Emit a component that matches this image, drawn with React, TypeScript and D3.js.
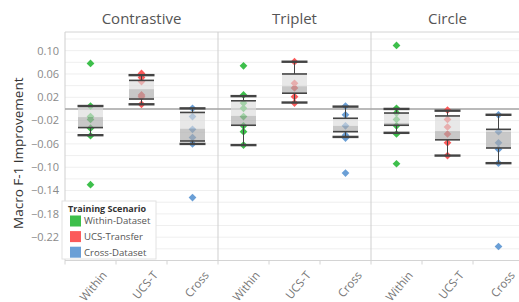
import React from 'react';
import * as d3 from 'd3';

// loss functions (facets) and training scenarios (columns inside each facet)
const losses = ['Contrastive', 'Triplet', 'Circle'];
const scenarios = ['Within', 'UCS-T', 'Cross'];
const legendLabels = ['Within-Dataset', 'UCS-Transfer', 'Cross-Dataset'];
const scenarioColors = ['#3dbf4b', '#fb5a5a', '#6a9fd6'];

// individual runs, [within, ucs-t, cross]
const contrastivePoints = [
  [0.078, 0.005, -0.013, -0.018, -0.033, -0.046, -0.130],
  [0.061, 0.054, 0.047, 0.024, 0.021, 0.008],
  [0.001, -0.013, -0.035, -0.049, -0.060, -0.152],
];
const tripletPoints = [
  [0.074, 0.024, 0.010, 0.001, -0.013, -0.029, -0.039, -0.062],
  [0.081, 0.044, 0.036, 0.021, 0.010],
  [0.005, -0.010, -0.029, -0.045, -0.050, -0.110],
];
const circlePoints = [
  [0.109, 0.001, -0.007, -0.018, -0.029, -0.043, -0.094],
  [-0.002, -0.018, -0.031, -0.043, -0.058, -0.080],
  [-0.010, -0.039, -0.058, -0.069, -0.093, -0.236],
];

// box stats: [lower whisker, q1, median, q3, upper whisker]
const contrastiveBoxes = [
  [-0.045, -0.032, -0.014, 0.005, 0.005],
  [0.008, 0.017, 0.034, 0.049, 0.058],
  [-0.060, -0.055, -0.034, -0.006, 0.001],
];
const tripletBoxes = [
  [-0.062, -0.028, -0.012, 0.014, 0.022],
  [0.011, 0.027, 0.039, 0.060, 0.081],
  [-0.048, -0.039, -0.029, -0.016, 0.004],
];
const circleBoxes = [
  [-0.041, -0.028, -0.024, -0.007, 0.0],
  [-0.080, -0.053, -0.038, -0.012, -0.003],
  [-0.093, -0.067, -0.039, -0.035, -0.010],
];

const yTicks = [0.1, 0.06, 0.02, -0.02, -0.06, -0.1, -0.14, -0.18, -0.22];

const allPoints = [contrastivePoints, tripletPoints, circlePoints];
const allBoxes = [contrastiveBoxes, tripletBoxes, circleBoxes];

const font = '"Open Sans", Lato, sans-serif';

export default function App() {
  const width = 519;
  const height = 302;
  const left = 65;
  const top = 32;
  const bottom = 260.5;
  const panelW = 153;

  const y = d3.scaleLinear().domain([-0.26, 0.132]).range([bottom, top]);
  const facet = d3.scaleBand<string>().domain(losses).range([left, left + panelW * 3]);
  const x = d3.scaleBand<string>().domain(scenarios).range([0, panelW]);

  const grid = d3.range(-0.26, 0.13, 0.02);
  const diamond = d3.symbol().type(d3.symbolDiamond2).size(38)();
  const boxW = 25;
  const capW = 26;
  const right = left + panelW * 3;

  return (
    <svg width={width} height={height} style={{ position: 'absolute', left: 0, top: 0 }} fontFamily={font}>
      <rect width={width} height={height} fill="#fff" />

      {/* gridlines */}
      {grid.map((g, i) => (
        <line key={i} x1={left} x2={right} y1={y(g)} y2={y(g)} stroke="#efefef" strokeWidth={1} />
      ))}

      {/* frame */}
      <line x1={left} x2={right} y1={top} y2={top} stroke="#d4d4d4" />
      <line x1={left} x2={right} y1={bottom} y2={bottom} stroke="#d4d4d4" />
      {losses.map(l => (
        <line key={l} x1={facet(l)!} x2={facet(l)!} y1={top} y2={bottom} stroke="#cfcfcf" />
      ))}

      {/* zero reference */}
      <line x1={left} x2={right} y1={y(0)} y2={y(0)} stroke="#a6a6a6" strokeWidth={1.6} />

      {/* y axis */}
      {yTicks.map(t => (
        <text key={t} x={59} y={y(t)} dy="0.35em" textAnchor="end" fontSize={11} fill="#8a8a8a">
          {d3.format('.2f')(t)}
        </text>
      ))}
      <text transform={`translate(23,${(top + bottom) / 2 + 7}) rotate(-90)`} textAnchor="middle"
        fontSize={13.5} fill="#333">Macro F-1 Improvement</text>

      {losses.map((loss, li) => {
        const x0 = facet(loss)!;
        return (
          <g key={loss}>
            <text x={x0 + panelW / 2} y={24} textAnchor="middle" fontSize={15} fill="#555">{loss}</text>
            {scenarios.map((s, si) => {
              const cx = x0 + x(s)! + x.bandwidth() / 2;
              const [lo, q1, med, q3, hi] = allBoxes[li][si];
              return (
                <g key={s}>
                  <line x1={x0 + x(s)!} x2={x0 + x(s)!} y1={bottom} y2={bottom + 4} stroke="#d4d4d4" />
                  <text transform={`translate(${cx + 17},${bottom + 15}) rotate(-50)`} textAnchor="end"
                    fontSize={11.5} fill="#777">{s}</text>
                  {allPoints[li][si].map((v, pi) => (
                    <path key={pi} d={diamond!} transform={`translate(${cx},${y(v)})`} fill={scenarioColors[si]} />
                  ))}
                  <line x1={cx} x2={cx} y1={y(hi)} y2={y(q3)} stroke="#444" />
                  <line x1={cx} x2={cx} y1={y(q1)} y2={y(lo)} stroke="#444" />
                  <rect x={cx - boxW / 2} width={boxW} y={y(q3)} height={y(med) - y(q3)} fill="#dcdcdc" fillOpacity={0.65} />
                  <rect x={cx - boxW / 2} width={boxW} y={y(med)} height={y(q1) - y(med)} fill="#ababab" fillOpacity={0.65} />
                  <line x1={cx - boxW / 2} x2={cx + boxW / 2} y1={y(q3)} y2={y(q3)} stroke="#444" strokeWidth={1.6} />
                  <line x1={cx - boxW / 2} x2={cx + boxW / 2} y1={y(q1)} y2={y(q1)} stroke="#444" strokeWidth={1.6} />
                  <line x1={cx - capW / 2} x2={cx + capW / 2} y1={y(hi)} y2={y(hi)} stroke="#444" strokeWidth={2.4} />
                  <line x1={cx - capW / 2} x2={cx + capW / 2} y1={y(lo)} y2={y(lo)} stroke="#444" strokeWidth={2.4} />
                </g>
              );
            })}
          </g>
        );
      })}

      {/* legend */}
      <g transform="translate(62,201)">
        <rect width={94} height={58} fill="#fff" stroke="#e2e2e2" />
        <text x={6} y={11} fontSize={9} fontWeight="bold" fill="#333">Training Scenario</text>
        {legendLabels.map((l, i) => (
          <g key={l} transform={`translate(8,${14.5 + i * 15.6})`}>
            <rect width={11} height={11} fill={scenarioColors[i]} />
            <text x={14} y={5.5} dy="0.35em" fontSize={9.6} fill="#555">{l}</text>
          </g>
        ))}
      </g>
    </svg>
  );
}
